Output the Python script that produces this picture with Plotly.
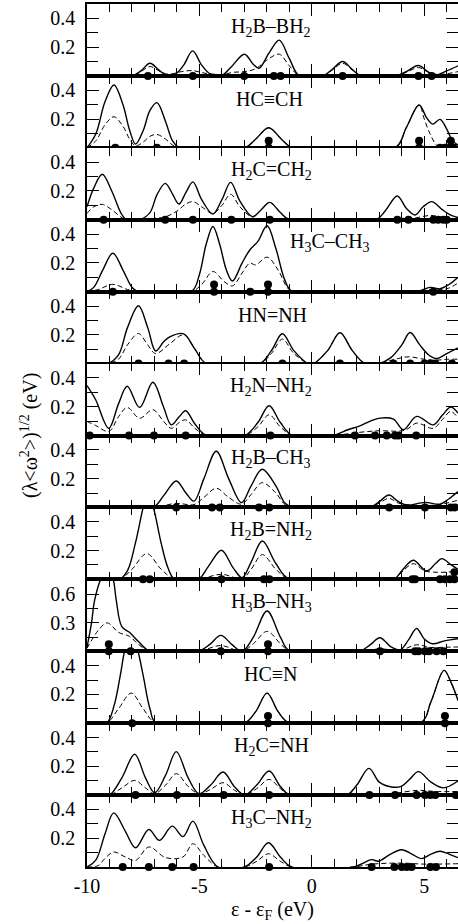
import plotly.graph_objects as go
from plotly.subplots import make_subplots

# ---------------- data ----------------
labels = ["H<sub>2</sub>B–BH<sub>2</sub>", "HC≡CH", "H<sub>2</sub>C=CH<sub>2</sub>", "H<sub>3</sub>C–CH<sub>3</sub>",
          "HN=NH", "H<sub>2</sub>N–NH<sub>2</sub>", "H<sub>2</sub>B–CH<sub>3</sub>", "H<sub>2</sub>B=NH<sub>2</sub>",
          "H<sub>3</sub>B–NH<sub>3</sub>", "HC≡N", "H<sub>2</sub>C=NH", "H<sub>3</sub>C–NH<sub>2</sub>"]
label_x = [-1.8, -1.87, -1.8, 0.8, -1.73, -1.8, -1.8, -1.8, -1.8, -1.8, -1.8, -1.8]

x_ticks = [-10, -5, 0, 5]
x_ticktext = ["-10", "-5", "0", "5"]

# 1 H2B-BH2
p1_sx = [-10, -8.0, -7.6, -7.2, -6.8, -6.45, -6.05, -5.7, -5.3, -4.9, -4.5, -4.0, -3.6, -3.0, -2.6, -2.35, -1.9, -1.45, -1.0, -0.55, 0.5, 0.9, 1.37, 1.8, 2.2, 3.7, 4.2, 4.74, 5.15, 5.5, 6.0, 6.5]
p1_sy = [0, 0, 0.035, 0.088, 0.04, 0.003, 0.015, 0.075, 0.174, 0.075, 0.012, 0.005, 0.06, 0.151, 0.08, 0.053, 0.16, 0.249, 0.12, 0.0, 0, 0.045, 0.10, 0.045, 0, 0, 0.03, 0.072, 0.03, 0.007, 0.035, 0.07]
p1_dx = [-10, -8.0, -7.6, -7.2, -6.8, -6.4, -5.8, -5.3, -4.8, -4.0, -3.5, -3.0, -2.5, -2.0, -1.45, -1.0, -0.55, 0.5, 0.9, 1.37, 1.8, 2.2, 3.7, 4.2, 4.74, 5.2, 5.6, 6.0, 6.5]
p1_dy = [0, 0, 0.03, 0.065, 0.035, 0.012, 0.03, 0.037, 0.02, 0.01, 0.025, 0.03, 0.05, 0.11, 0.151, 0.07, 0.0, 0, 0.04, 0.088, 0.04, 0, 0, 0.025, 0.058, 0.025, 0.01, 0.015, 0.03]
p1_px = [-7.29, -5.29, -3.01, -1.69, -1.39, 1.37, 4.74, 5.33]
p1_py = [0, 0, 0, 0, 0, 0, 0, 0]

# 2 HC≡CH
p2_sx = [-10, -9.6, -9.2, -8.8, -8.4, -8.1, -7.84, -7.5, -7.2, -6.89, -6.5, -6.2, -5.88, -3.0, -2.5, -1.92, -1.35, -0.86, 3.7, 4.2, 4.77, 5.1, 5.37, 5.7, 6.0, 6.25, 6.5]
p2_sy = [0, 0.1, 0.32, 0.437, 0.30, 0.12, 0.026, 0.12, 0.26, 0.314, 0.18, 0.05, 0, 0, 0.06, 0.14, 0.06, 0, 0, 0.14, 0.298, 0.21, 0.165, 0.198, 0.13, 0.05, 0.02]
p2_dx = [-10, -9.6, -9.2, -8.8, -8.4, -8.1, -7.84, -7.5, -7.2, -6.89, -6.5, -6.2, -5.88, -3.0, -2.5, -1.92, -1.35, -0.86, 3.7, 4.2, 4.77, 5.0, 5.25, 5.6, 6.0, 6.5]
p2_dy = [0, 0.05, 0.16, 0.216, 0.15, 0.06, 0.014, 0.04, 0.08, 0.093, 0.06, 0.02, 0, 0, 0.06, 0.14, 0.06, 0, 0, 0.14, 0.298, 0.2, 0.1, 0.01, 0, 0]
p2_px = [-8.74, -6.89, -1.92, -1.92, 4.77, 4.77, 5.70, 5.92, 6.12, 6.18, 6.33]
p2_py = [0, 0, 0, 0.05, 0, 0.05, 0, 0, 0, 0.05, 0]

# 3 H2C=CH2
p3_sx = [-10, -9.7, -9.32, -8.9, -8.5, -8.25, -7.66, -7.2, -6.9, -6.52, -6.2, -5.91, -5.6, -5.29, -4.9, -4.4, -4.0, -3.61, -3.2, -2.64, -2.25, -1.87, -1.4, -0.98, 2.85, 3.3, 3.8, 4.2, 4.59, 4.95, 5.33, 5.8, 6.2, 6.5]
p3_sy = [0.09, 0.22, 0.316, 0.2, 0.05, 0, 0, 0.05, 0.17, 0.253, 0.18, 0.109, 0.19, 0.263, 0.14, 0.04, 0.14, 0.26, 0.13, 0.021, 0.07, 0.121, 0.05, 0, 0, 0.07, 0.165, 0.08, 0.033, 0.09, 0.126, 0.07, 0.03, 0.015]
p3_dx = [-10, -9.7, -9.32, -8.9, -8.5, -8.25, -7.66, -7.0, -6.52, -6.0, -5.6, -5.29, -4.9, -4.4, -4.0, -3.61, -3.2, -2.64, -2.25, -1.87, -1.4, -0.98, 2.85, 3.8, 4.5, 5.3, 6.0, 6.5]
p3_dy = [0.044, 0.09, 0.107, 0.07, 0.02, 0, 0, 0.01, 0.02, 0.06, 0.11, 0.126, 0.09, 0.044, 0.1, 0.177, 0.09, 0.021, 0.07, 0.121, 0.05, 0, 0, 0.01, 0.01, 0.03, 0.01, 0.005]
p3_px = [-9.26, -6.52, -5.29, -3.58, -1.87, 3.80, 4.30, 5.40, 5.62, 5.85, 6.0]
p3_py = [0] * 11

# 4 H3C-CH3
p4_sx = [-10, -9.7, -9.3, -8.85, -8.4, -8.0, -7.73, -5.36, -5.0, -4.7, -4.4, -4.1, -3.8, -3.53, -3.1, -2.76, -2.4, -1.99, -1.6, -1.2, -0.86, 4.6, 5.27, 5.7, 6.1, 6.5]
p4_sy = [0, 0.03, 0.15, 0.267, 0.15, 0.03, 0, 0, 0.12, 0.33, 0.453, 0.33, 0.15, 0.074, 0.2, 0.29, 0.35, 0.458, 0.3, 0.08, 0, 0, 0.03, 0.02, 0.05, 0.1]
p4_dx = [-10, -9.5, -8.85, -8.2, -7.73, -5.36, -4.9, -4.4, -3.9, -3.53, -3.1, -2.76, -2.5, -1.99, -1.5, -1.1, -0.86, 4.6, 5.3, 6.0, 6.5]
p4_dy = [0, 0.015, 0.051, 0.015, 0, 0, 0.05, 0.14, 0.07, 0.04, 0.13, 0.198, 0.186, 0.24, 0.15, 0.03, 0, 0, 0.015, 0.02, 0.06]
p4_px = [-8.85, -4.35, -4.35, -2.74, -1.95, -1.95, 5.40]
p4_py = [0, 0, 0.05, 0, 0, 0.05, 0]

# 5 HN=NH
p5_sx = [-10, -9.07, -8.6, -8.2, -7.71, -7.3, -6.95, -6.6, -6.32, -5.7, -5.2, -4.69, -2.32, -1.8, -1.31, -0.8, -0.16, 0.07, 0.7, 1.25, 1.8, 2.36, 2.96, 3.5, 4.0, 4.37, 4.8, 5.2, 5.55, 6.0, 6.5]
p5_sy = [0, 0, 0.06, 0.25, 0.402, 0.25, 0.088, 0.15, 0.186, 0.207, 0.1, 0, 0, 0.09, 0.207, 0.09, 0, 0, 0.09, 0.214, 0.09, 0, 0, 0.04, 0.13, 0.216, 0.13, 0.06, 0.035, 0.07, 0.11]
p5_dx = [-10, -9.07, -8.6, -8.2, -7.71, -7.3, -6.95, -6.3, -5.7, -5.2, -4.69, -2.32, -1.8, -1.31, -0.8, -0.16, 0.07, 0.7, 1.25, 1.8, 2.36, 2.96, 3.7, 4.3, 5.0, 5.5, 6.0, 6.5]
p5_dy = [0, 0, 0.03, 0.13, 0.209, 0.13, 0.07, 0.14, 0.2, 0.1, 0, 0, 0.07, 0.17, 0.07, 0, 0, 0.09, 0.214, 0.09, 0, 0, 0.03, 0.047, 0.03, 0.023, 0.03, 0.03]
p5_px = [-7.71, -6.37, -5.68, -1.31, 1.25, 3.63, 4.37, 5.01, 5.27, 5.49, 6.23]
p5_py = [0] * 11

# 6 H2N-NH2
p6_sx = [-10, -9.62, -9.03, -8.6, -8.21, -7.66, -7.07, -6.6, -6.25, -5.9, -5.61, -5.2, -4.69, -2.99, -2.4, -1.9, -1.4, -0.86, 0.93, 1.6, 2.14, 2.6, 3.03, 3.63, 4.07, 4.66, 5.4, 5.8, 6.18, 6.5]
p6_sy = [0.347, 0.25, 0.05, 0.22, 0.342, 0.195, 0.37, 0.2, 0.074, 0.13, 0.172, 0.08, 0, 0, 0.09, 0.207, 0.09, 0, 0, 0.04, 0.067, 0.1, 0.121, 0.114, 0.04, 0.133, 0.074, 0.14, 0.198, 0.156]
p6_dx = [-10, -9.62, -9.03, -8.6, -8.21, -7.66, -7.07, -6.6, -6.25, -5.9, -5.61, -5.2, -4.69, -2.99, -2.4, -1.9, -1.4, -0.86, 0.93, 2.0, 3.0, 3.8, 4.2, 4.66, 5.4, 5.8, 6.18, 6.5]
p6_dy = [0.098, 0.07, 0.028, 0.13, 0.195, 0.12, 0.179, 0.1, 0.05, 0.09, 0.109, 0.05, 0, 0, 0.06, 0.144, 0.06, 0, 0, 0.02, 0.033, 0.03, 0.04, 0.086, 0.05, 0.11, 0.167, 0.12]
p6_px = [-9.88, -8.13, -7.02, -5.61, -1.84, 1.92, 2.81, 3.33, 3.70, 3.85, 4.64]
p6_py = [0] * 11

# 7 H2B-CH3
p7_sx = [-10, -7.07, -6.6, -6.03, -5.6, -5.24, -4.8, -4.25, -3.7, -3.13, -2.7, -2.21, -1.6, -1.2, -0.86, 2.58, 3.0, 3.43, 3.85, 4.22, 5.03, 5.7, 6.1, 6.5]
p7_sy = [0, 0, 0.08, 0.184, 0.1, 0.044, 0.2, 0.39, 0.2, 0.033, 0.15, 0.265, 0.15, 0.03, 0, 0, 0.04, 0.086, 0.04, 0.016, 0.035, 0.023, 0.06, 0.11]
p7_dx = [-10, -7.07, -6.03, -5.24, -4.8, -4.25, -3.7, -3.13, -2.7, -2.21, -1.6, -1.2, -0.86, 2.58, 3.0, 3.43, 3.85, 4.5, 5.5, 6.0, 6.5]
p7_dy = [0, 0, 0.028, 0.02, 0.07, 0.133, 0.07, 0.023, 0.09, 0.172, 0.1, 0.02, 0, 0, 0.03, 0.063, 0.03, 0.016, 0.016, 0.03, 0.05]
p7_px = [-6.03, -4.44, -4.09, -2.35, -1.89, 3.44, 5.03, 6.18, 6.36]
p7_py = [0] * 9

# 8 H2B=NH2
p8_sx = [-10, -8.55, -8.2, -7.85, -7.5, -7.3, -7.05, -6.7, -6.4, -6.1, -5.05, -4.6, -4.02, -3.5, -3.1, -2.7, -2.2, -1.6, -0.98, 3.63, 4.0, 4.51, 5.1, 5.5, 5.78, 6.2, 6.5]
p8_sy = [0, 0, 0.06, 0.25, 0.5, 0.6, 0.5, 0.25, 0.08, 0, 0, 0.09, 0.202, 0.08, 0.012, 0.12, 0.267, 0.11, 0, 0, 0.06, 0.133, 0.058, 0.11, 0.144, 0.1, 0.07]
p8_dx = [-10, -8.55, -8.0, -7.34, -6.7, -6.1, -5.05, -4.02, -3.1, -2.7, -2.2, -1.6, -0.98, 3.63, 4.0, 4.51, 5.0, 5.4, 6.0, 6.5]
p8_dy = [0, 0, 0.07, 0.179, 0.07, 0, 0, 0.035, 0.005, 0.07, 0.172, 0.07, 0, 0, 0.05, 0.109, 0.06, 0.05, 0.05, 0.06]
p8_px = [-7.51, -7.21, -4.02, -2.13, -1.89, 4.47, 4.59, 5.70, 5.92, 6.14, 6.34, 6.34]
p8_py = [0, 0, 0, 0, 0, 0, 0, 0, 0, 0, 0, 0.05]

# 9 H3B-NH3
p9_sx = [-10, -9.8, -9.66, -9.37, -9.1, -8.85, -8.7, -8.45, -8.11, -7.7, -7.2, -5.05, -4.55, -4.05, -3.55, -3.1, -2.6, -1.99, -1.4, -0.98, 2.14, 2.6, 3.03, 3.5, 3.92, 4.3, 4.66, 5.0, 5.37, 5.9, 6.5]
p9_sy = [0.04, 0.3, 0.54, 0.77, 0.86, 0.77, 0.54, 0.26, 0.2, 0.1, 0, 0, 0.07, 0.168, 0.07, 0, 0.15, 0.425, 0.15, 0, 0, 0.07, 0.143, 0.05, 0.014, 0.12, 0.24, 0.13, 0.079, 0.11, 0.132]
p9_dx = [-10, -9.5, -9.1, -8.6, -8.11, -7.7, -7.2, -5.05, -4.05, -3.1, -2.6, -1.99, -1.4, -0.98, 2.14, 3.03, 3.92, 4.66, 5.3, 6.0, 6.5]
p9_dy = [0.03, 0.22, 0.3, 0.2, 0.157, 0.07, 0, 0, 0.06, 0, 0.08, 0.21, 0.08, 0, 0, 0.025, 0.01, 0.068, 0.04, 0.043, 0.045]
p9_px = [-9.03, -9.03, -8.06, -4.05, -1.95, -1.95, 3.03, 4.59, 4.74, 5.03, 5.22, 5.55, 5.85]
p9_py = [0, 0.075, 0, 0, 0, 0.075, 0, 0, 0, 0, 0, 0, 0]

# 10 HC≡N
p10_sx = [-10, -9.14, -8.8, -8.5, -8.33, -8.03, -7.73, -7.5, -7.2, -6.92, -3.01, -2.5, -1.99, -1.5, -0.98, 4.82, 5.3, 5.88, 6.2, 6.5]
p10_sy = [0, 0, 0.12, 0.35, 0.5, 0.65, 0.5, 0.33, 0.1, 0, 0, 0.08, 0.209, 0.08, 0, 0, 0.15, 0.367, 0.28, 0.158]
p10_dx = [-10, -9.14, -8.6, -8.03, -7.5, -6.92, -3.01, -2.5, -1.99, -1.5, -0.98, 4.82, 5.3, 5.88, 6.2, 6.5]
p10_dy = [0, 0, 0.1, 0.209, 0.1, 0, 0, 0.08, 0.209, 0.08, 0, 0, 0.15, 0.367, 0.28, 0.158]
p10_px = [-7.99, -1.95, -1.95, 5.92, 5.92]
p10_py = [0, 0, 0.05, 0, 0.05]

# 11 H2C=NH
p11_sx = [-10, -9.5, -9.0, -8.45, -7.88, -7.4, -6.99, -6.5, -6.03, -5.5, -5.02, -4.5, -3.95, -3.45, -2.99, -2.45, -1.9, -1.4, -0.98, 1.55, 2.0, 2.54, 3.0, 3.55, 4.0, 4.35, 4.74, 5.3, 5.85, 6.5]
p11_sy = [0.01, 0, 0, 0.12, 0.284, 0.12, 0.016, 0.14, 0.302, 0.12, 0.01, 0.07, 0.16, 0.06, 0, 0.07, 0.167, 0.06, 0, 0, 0.07, 0.186, 0.09, 0.056, 0.063, 0.11, 0.163, 0.09, 0.05, 0.098]
p11_dx = [-10, -9.0, -8.45, -7.88, -7.4, -6.99, -6.5, -6.03, -5.5, -5.02, -4.5, -3.95, -3.45, -2.99, -2.45, -1.9, -1.4, -0.98, 1.55, 2.54, 3.5, 4.74, 5.5, 6.5]
p11_dy = [0.005, 0, 0.05, 0.102, 0.05, 0.01, 0.07, 0.149, 0.06, 0.01, 0.04, 0.086, 0.035, 0, 0.045, 0.109, 0.045, 0, 0, 0.01, 0.01, 0.033, 0.025, 0.025]
p11_px = [-7.84, -6.0, -3.92, -1.9, 2.56, 3.70, 4.66, 5.03, 5.27, 5.49, 6.4]
p11_py = [0] * 11

# 12 H3C-NH2
p12_sx = [-10, -9.6, -9.2, -8.81, -8.3, -7.84, -7.25, -6.78, -6.21, -5.73, -5.29, -4.8, -4.17, -3.0, -2.45, -1.93, -1.4, -0.9, 1.84, 2.66, 2.96, 3.5, 4.0, 4.45, 4.88, 5.3, 5.7, 6.1, 6.5]
p12_sy = [0, 0.05, 0.23, 0.376, 0.25, 0.134, 0.261, 0.185, 0.284, 0.212, 0.319, 0.15, 0, 0, 0.07, 0.169, 0.07, 0, 0, 0.051, 0.04, 0.09, 0.12, 0.09, 0.058, 0.09, 0.109, 0.09, 0.065]
p12_dx = [-10, -9.5, -9.2, -8.81, -8.3, -7.84, -7.25, -6.5, -5.73, -5.29, -4.8, -4.17, -3.0, -2.45, -1.93, -1.4, -0.9, 1.84, 2.66, 4.0, 5.0, 6.5]
p12_dy = [0, 0.01, 0.06, 0.104, 0.07, 0.046, 0.139, 0.065, 0.07, 0.162, 0.08, 0, 0, 0.04, 0.092, 0.04, 0, 0, 0.02, 0.027, 0.02, 0.023]
p12_px = [-8.41, -7.25, -6.21, -5.26, -1.9, 2.66, 3.67, 4.0, 4.22, 4.44, 5.27, 5.52]
p12_py = [0] * 12

solid_x = [p1_sx, p2_sx, p3_sx, p4_sx, p5_sx, p6_sx, p7_sx, p8_sx, p9_sx, p10_sx, p11_sx, p12_sx]
solid_y = [p1_sy, p2_sy, p3_sy, p4_sy, p5_sy, p6_sy, p7_sy, p8_sy, p9_sy, p10_sy, p11_sy, p12_sy]
dash_x = [p1_dx, p2_dx, p3_dx, p4_dx, p5_dx, p6_dx, p7_dx, p8_dx, p9_dx, p10_dx, p11_dx, p12_dx]
dash_y = [p1_dy, p2_dy, p3_dy, p4_dy, p5_dy, p6_dy, p7_dy, p8_dy, p9_dy, p10_dy, p11_dy, p12_dy]
dot_x = [p1_px, p2_px, p3_px, p4_px, p5_px, p6_px, p7_px, p8_px, p9_px, p10_px, p11_px, p12_px]
dot_y = [p1_py, p2_py, p3_py, p4_py, p5_py, p6_py, p7_py, p8_py, p9_py, p10_py, p11_py, p12_py]

# ---------------- figure ----------------
N = 12
FONT = "Liberation Serif, Times New Roman, serif"
fig = make_subplots(rows=N, cols=1, shared_xaxes=True, vertical_spacing=0)

for i in range(N):
    r = i + 1
    fig.add_trace(go.Scatter(x=solid_x[i], y=solid_y[i], mode="lines",
                             line=dict(color="black", width=1.4, shape="spline", smoothing=1.0),
                             showlegend=False, hoverinfo="skip"), row=r, col=1)
    fig.add_trace(go.Scatter(x=dash_x[i], y=dash_y[i], mode="lines",
                             line=dict(color="black", width=1.0, dash="5px,3px", shape="spline", smoothing=1.0),
                             showlegend=False, hoverinfo="skip"), row=r, col=1)
    fig.add_trace(go.Scatter(x=dot_x[i], y=dot_y[i], mode="markers",
                             marker=dict(color="black", size=8), cliponaxis=False,
                             showlegend=False, hoverinfo="skip"), row=r, col=1)

    if i == 8:
        yr = [0, 0.76]
        yt = [0.3, 0.6]
        ym = [0.15, 0.45]
    else:
        yr = [0, 0.5]
        yt = [0.2, 0.4]
        ym = [0.1, 0.3]
    fig.update_yaxes(range=yr, tickvals=yt, ticktext=[f"{v:.1f}" for v in yt],
                     ticks="inside", ticklen=12,
                     tickwidth=1.2, tickcolor="black", showline=True, linecolor="black",
                     linewidth=1.5, mirror="ticks", showgrid=False, zeroline=False,
                     ticklabelstandoff=6, automargin=False,
                     minor=dict(tickvals=ym, ticks="inside", ticklen=11, tickwidth=1.2,
                                tickcolor="black", showgrid=False),
                     tickfont=dict(family=FONT, size=20, color="black"), row=r, col=1)
    fig.update_xaxes(range=[-10, 6.5], tickvals=x_ticks, ticktext=x_ticktext, ticks="inside",
                     ticklen=12, tickwidth=1.2, tickcolor="black", showline=True,
                     linecolor="black", linewidth=1.5, mirror="ticks", showgrid=False,
                     zeroline=False, showticklabels=(r == N), automargin=False,
                     minor=dict(dtick=1, tick0=0, ticks="inside", ticklen=8, tickwidth=1.2,
                                tickcolor="black", showgrid=False),
                     tickfont=dict(family=FONT, size=20, color="black"), row=r, col=1)

    yname = "y" if r == 1 else f"y{r}"
    xname = "x" if r == 1 else f"x{r}"
    fig.add_annotation(x=label_x[i], y=0.68, xref=xname, yref=f"{yname} domain",
                       text=labels[i], showarrow=False, xanchor="center", yanchor="middle",
                       font=dict(family=FONT, size=20, color="black"))

fig.add_annotation(x=-0.155, y=0.5, xref="paper", yref="paper", textangle=-90,
                   text="(λ&lt;ω<sup>2</sup>&gt;)<sup>1/2</sup> (eV)", showarrow=False,
                   xanchor="center", yanchor="middle",
                   font=dict(family=FONT, size=20, color="black"))
fig.add_annotation(x=0.5, y=-0.05, xref="paper", yref="paper",
                   text="ε - ε<sub>F</sub> (eV)", showarrow=False,
                   xanchor="center", yanchor="middle",
                   font=dict(family=FONT, size=20, color="black"))

fig.update_layout(width=458, height=924, margin=dict(l=87, r=0, t=4, b=57),
                  plot_bgcolor="white", paper_bgcolor="white",
                  font=dict(family=FONT, color="black"))

fig.write_html("out.html", config={"displayModeBar": False},
               post_script="document.body.style.margin='0';document.body.style.padding='0';")
